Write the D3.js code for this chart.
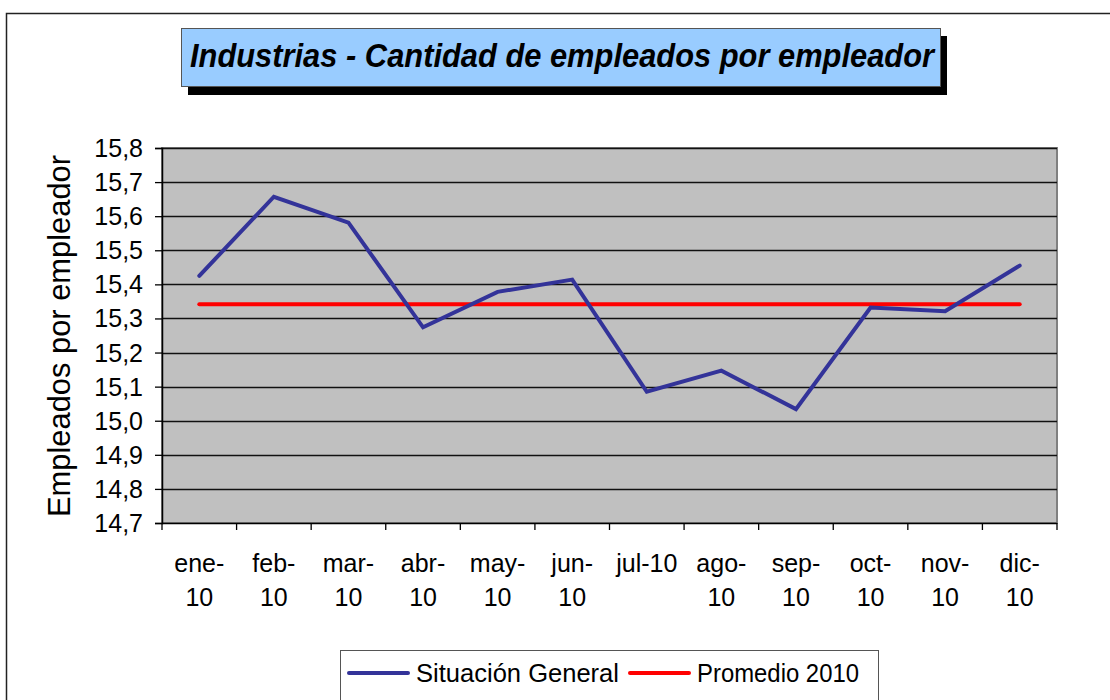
<!DOCTYPE html>
<html>
<head>
<meta charset="utf-8">
<script src="https://cdn.jsdelivr.net/npm/d3@7"></script>
<style>
  html, body { margin: 0; padding: 0; background: #fff; }
  svg { display: block; font-family: Arial, "Liberation Sans", sans-serif; }
</style>
</head>
<body>
<script>
const categories = ["ene-10","feb-10","mar-10","abr-10","may-10","jun-10","jul-10","ago-10","sep-10","oct-10","nov-10","dic-10"];
const xTickLabels = [["ene-","10"],["feb-","10"],["mar-","10"],["abr-","10"],["may-","10"],["jun-","10"],["jul-10"],["ago-","10"],["sep-","10"],["oct-","10"],["nov-","10"],["dic-","10"]];
const situacionGeneral = [15.425, 15.657, 15.581, 15.274, 15.378, 15.414, 15.085, 15.147, 15.034, 15.332, 15.321, 15.455];
const promedio2010 = [15.342, 15.342, 15.342, 15.342, 15.342, 15.342, 15.342, 15.342, 15.342, 15.342, 15.342, 15.342];
const yTicks = [14.7, 14.8, 14.9, 15.0, 15.1, 15.2, 15.3, 15.4, 15.5, 15.6, 15.7, 15.8];
const seriesNames = ["Situación General", "Promedio 2010"];
const seriesColors = ["#333399", "#FF0000"];
const title = "Industrias - Cantidad de empleados por empleador";
const yTitle = "Empleados por empleador";

const W = 1110, H = 700;
const FONT = "Arial, 'Liberation Sans', sans-serif";
const svg = d3.select("body").append("svg").attr("width", W).attr("height", H);

// outer chart border (extends off canvas)
svg.append("rect").attr("x", 6.5).attr("y", 13.5).attr("width", W + 20).attr("height", H + 20)
  .attr("fill", "#fff").attr("stroke", "#222").attr("stroke-width", 1.5);

// plot area
const L = 162, R = 1057, T = 148, B = 523;
const x = d3.scaleBand().domain(categories).range([L, R]);
const y = d3.scaleLinear().domain([14.7, 15.8]).range([B, T]);

svg.append("rect").attr("x", L).attr("y", T).attr("width", R - L).attr("height", B - T)
  .attr("fill", "#C0C0C0").attr("stroke", "#808080").attr("stroke-width", 2);

// gridlines
svg.append("g").selectAll("line").data(yTicks.slice(1)).join("line")
  .attr("x1", L).attr("x2", R)
  .attr("y1", d => Math.round(y(d)) + 0.5).attr("y2", d => Math.round(y(d)) + 0.5)
  .attr("stroke", "#111").attr("stroke-width", 1.3);

// y axis
const yAxis = d3.axisLeft(y).tickValues(yTicks).tickSize(7).tickPadding(12)
  .tickFormat(d => d3.format(".1f")(d).replace(".", ","));
const gy = svg.append("g").attr("transform", `translate(${L},0)`).call(yAxis);
gy.select(".domain").attr("stroke", "#000").attr("stroke-width", 1.5);
gy.selectAll(".tick line").attr("stroke", "#000").attr("stroke-width", 1.3);
gy.selectAll("text").attr("font-size", 25).attr("fill", "#000").attr("font-family", FONT)
  .attr("dy", "0.34em");

// x axis line + ticks at category boundaries
const gx = svg.append("g");
gx.append("line").attr("x1", L).attr("x2", R).attr("y1", B + 0.5).attr("y2", B + 0.5)
  .attr("stroke", "#000").attr("stroke-width", 1.5);
const boundaries = categories.map(c => x(c)).concat([x(categories[categories.length - 1]) + x.bandwidth()]);
gx.selectAll("line.tk").data(boundaries).join("line").attr("class", "tk")
  .attr("x1", d => d).attr("x2", d => d).attr("y1", B).attr("y2", B + 7)
  .attr("stroke", "#000").attr("stroke-width", 1.3);
const xl = gx.selectAll("text").data(categories).join("text")
  .attr("x", d => x(d) + x.bandwidth() / 2).attr("y", 572)
  .attr("text-anchor", "middle").attr("font-size", 25).attr("fill", "#000");
xl.each(function(d, i) {
  const t = d3.select(this);
  xTickLabels[i].forEach((line, j) => {
    t.append("tspan").attr("x", x(d) + x.bandwidth() / 2).attr("dy", j === 0 ? 0 : 34).text(line);
  });
});

// y title
svg.append("text").attr("transform", `translate(70,336) rotate(-90)`)
  .attr("text-anchor", "middle").attr("font-size", 31).attr("fill", "#000")
  .attr("textLength", 362).attr("lengthAdjust", "spacingAndGlyphs").text(yTitle);

// lines
const line = d3.line().x((d, i) => x(categories[i]) + x.bandwidth() / 2).y(d => y(d));
svg.append("path").datum(promedio2010).attr("d", line).attr("fill", "none")
  .attr("stroke", seriesColors[1]).attr("stroke-width", 4).attr("stroke-linecap", "round");
svg.append("path").datum(situacionGeneral).attr("d", line).attr("fill", "none")
  .attr("stroke", seriesColors[0]).attr("stroke-width", 4).attr("stroke-linecap", "round").attr("stroke-linejoin", "miter");

// title box with shadow
svg.append("rect").attr("x", 188).attr("y", 36).attr("width", 759).attr("height", 59).attr("fill", "#000");
svg.append("rect").attr("x", 181.5).attr("y", 28.5).attr("width", 759).attr("height", 58)
  .attr("fill", "#99CCFF").attr("stroke", "#555").attr("stroke-width", 1);
svg.append("text").attr("x", 562).attr("y", 67).attr("text-anchor", "middle")
  .attr("font-size", 33).attr("font-weight", "bold").attr("font-style", "italic").attr("fill", "#000")
  .attr("textLength", 744).attr("lengthAdjust", "spacingAndGlyphs").text(title);

// legend
const lg = svg.append("g");
lg.append("rect").attr("x", 340.5).attr("y", 650.5).attr("width", 538).attr("height", 55)
  .attr("fill", "#fff").attr("stroke", "#555").attr("stroke-width", 1);
const legX = [349, 630];
const legTextW = [203, 162];
seriesNames.forEach((n, i) => {
  lg.append("line").attr("x1", legX[i]).attr("x2", legX[i] + 59).attr("y1", 673).attr("y2", 673)
    .attr("stroke", seriesColors[i]).attr("stroke-width", 4).attr("stroke-linecap", "round");
  lg.append("text").attr("x", legX[i] + 67).attr("y", 682).attr("font-size", 25).attr("fill", "#000")
    .attr("textLength", legTextW[i]).attr("lengthAdjust", "spacingAndGlyphs").text(n);
});
</script>
</body>
</html>
